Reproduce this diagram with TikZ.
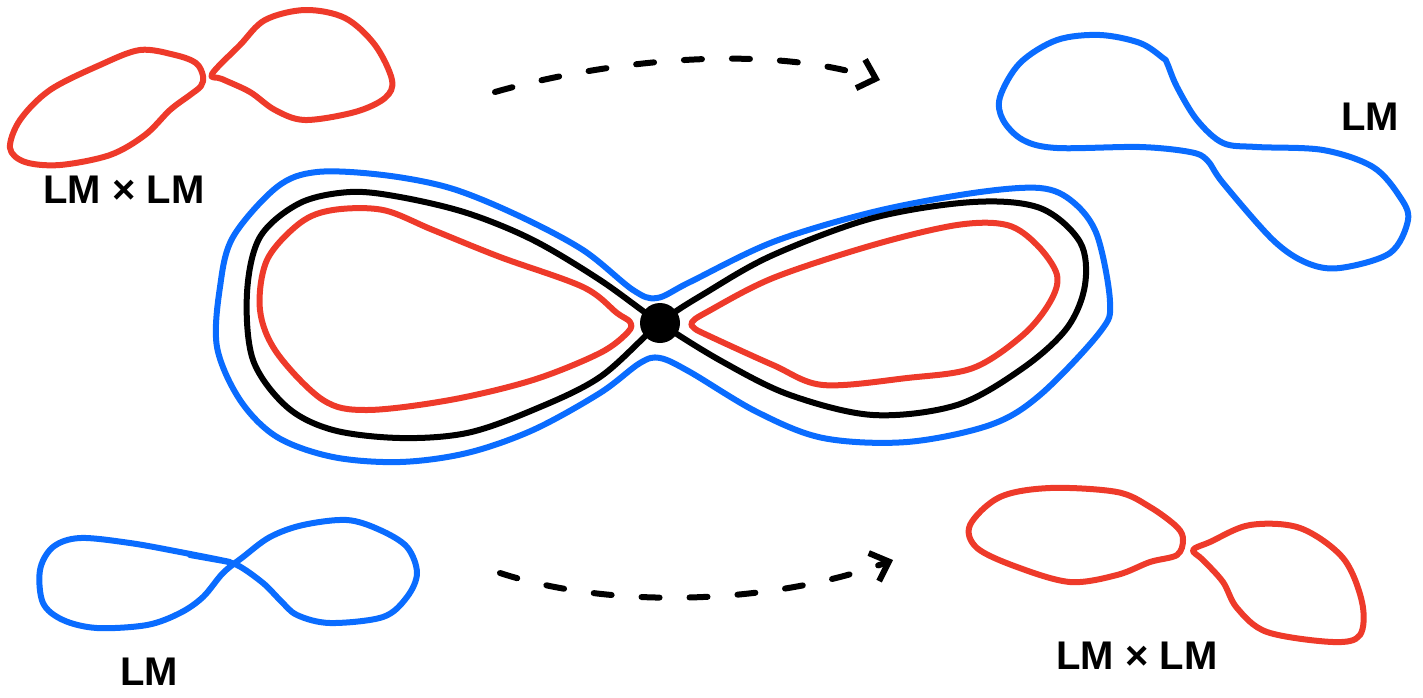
\documentclass[tikz,border=0pt]{standalone}
\usepackage{fontspec}
\setmainfont{Liberation Sans}
\usetikzlibrary{arrows.meta}
\definecolor{pred}{HTML}{EE3A2A}
\definecolor{pblue}{HTML}{0A6CFF}
\tikzset{
  redline/.style={draw=pred, line width=6pt, line join=round, line cap=round},
  blueline/.style={draw=pblue, line width=6pt, line join=round, line cap=round},
  blackline/.style={draw=black, line width=6pt, line join=round, line cap=round},
  dasharrow/.style={draw=black, line width=6pt, line cap=round, dash pattern=on 18pt off 30pt, -{Straight Barb[length=16pt,width=30pt,line width=6pt]}},
  lbl/.style={font=\fontsize{40}{40}\selectfont\bfseries, inner sep=0pt},
  dotnode/.style={circle, fill=black, minimum size=40pt, inner sep=0pt}
}
\begin{document}
\begin{tikzpicture}[x=1pt,y=-1pt]
\useasboundingbox (0,0) rectangle (1423,697);
% top-left red LMxLM
\draw[redline] plot[smooth cycle, tension=0.55] coordinates {(203,76) (196,63) (175,55) (140,50) (100,65) (50,90) (20,120) (10,148) (25,162) (60,165) (110,155) (145,135) (170,110) (190,95) (201,86)};
\draw[redline] plot[smooth cycle, tension=0.55] coordinates {(212,74) (240,45) (265,20) (305,10) (345,18) (375,45) (392,80) (385,98) (355,112) (305,120) (275,110) (250,92) (222,79)};
% top-right blue LM
\draw[blueline] plot[smooth cycle, tension=0.55] coordinates {(1167,63) (1177,87) (1197,120) (1223,143) (1257,147) (1323,150) (1373,167) (1400,197) (1408,220) (1390,253) (1340,268) (1307,263) (1273,240) (1223,183) (1207,160) (1190,152) (1140,147) (1057,148) (1023,140) (1003,120) (1000,97) (1020,63) (1057,40) (1100,35) (1140,43) (1163,58)};
% bottom-left blue LM
\draw[blueline] plot[smooth cycle, tension=0.55] coordinates {(230,562) (180,552) (130,543) (80,538) (53,547) (40,570) (43,603) (63,620) (97,628) (147,625) (180,613) (203,597) (223,573) (243,557) (270,537) (303,525) (347,520) (380,530) (407,547) (417,573) (407,597) (383,617) (330,623) (297,615) (280,600) (263,583) (237,565) (213,559) (190,555)};
% bottom-right red LMxLM
\draw[redline] plot[smooth cycle, tension=0.55] coordinates {(1183,540) (1177,527) (1150,507) (1117,492) (1050,488) (1000,497) (970,525) (977,548) (1017,567) (1070,582) (1117,575) (1150,562) (1177,555)};
\draw[redline] plot[smooth cycle, tension=0.55] coordinates {(1193,550) (1210,542) (1250,525) (1300,528) (1343,558) (1362,602) (1360,635) (1333,642) (1267,632) (1237,608) (1223,582) (1203,560)};
% central figure: blue outer
\draw[blueline] plot[smooth cycle, tension=0.55] coordinates {(657,298) (690,282) (773,242) (873,212) (973,193) (1040,188) (1073,202) (1097,235) (1110,302) (1100,332) (1040,395) (990,425) (907,442) (823,438) (757,412) (690,372) (660,358) (640,363) (600,393) (533,430) (467,453) (400,462) (333,457) (277,437) (240,400) (217,347) (220,287) (233,237) (277,187) (317,172) (383,175) (450,188) (517,215) (583,250) (633,290)};
% black figure eight
\draw[blackline] plot[smooth cycle, tension=0.55] coordinates {(660,323) (723,362) (790,395) (873,415) (957,405) (1023,368) (1067,328) (1085,285) (1080,242) (1040,208) (973,202) (873,218) (773,255) (707,292) (660,323) (600,377) (533,410) (467,433) (400,438) (333,430) (287,407) (253,360) (247,293) (260,237) (300,203) (350,192) (400,197) (467,213) (533,240) (600,280)};
% red inner loops
\draw[redline] plot[smooth cycle, tension=0.55] coordinates {(630,322) (617,313) (583,287) (500,257) (433,230) (383,210) (333,210) (300,223) (267,260) (260,310) (277,353) (323,400) (367,410) (450,400) (533,380) (600,353) (628,332)};
\draw[redline] plot[smooth cycle, tension=0.55] coordinates {(692,322) (707,312) (773,278) (873,245) (957,225) (1007,225) (1037,245) (1057,275) (1050,302) (1023,335) (973,368) (907,378) (823,385) (773,365) (707,335) (694,328)};
\node[dotnode] (dot) at (660,323) {};
% dashed arrows
\coordinate (a1s) at (495,92);
\coordinate (a1e) at (880,80);
\draw[dasharrow] (a1s) .. controls (600,62) and (760,42) .. (a1e);
\coordinate (a2s) at (500,573);
\coordinate (a2e) at (893,560);
\draw[dasharrow] (a2s) .. controls (620,612) and (780,602) .. (a2e);
% labels
\node[lbl] (l1) at (124,190) {LM × LM};
\node[lbl] (l2) at (1370,117) {LM};
\node[lbl] (l3) at (149,672) {LM};
\node[lbl] (l4) at (1137,656) {LM × LM};
\end{tikzpicture}
\end{document}
